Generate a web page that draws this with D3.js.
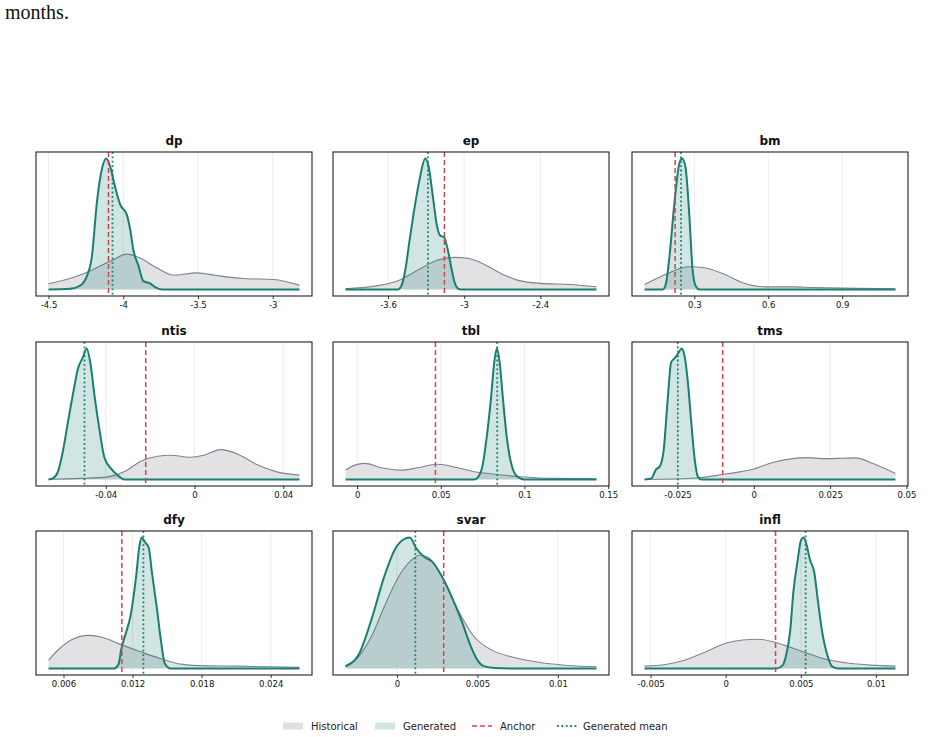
<!DOCTYPE html>
<html>
<head>
<meta charset="utf-8">
<script src="https://cdn.jsdelivr.net/npm/d3@7"></script>
<style>
  body { margin: 0; background: #fff; }
  svg text { font-family: "DejaVu Sans", sans-serif; }
</style>
</head>
<body>
<script>
// Variables, anchors and generated means
const variables = ["dp", "ep", "bm", "ntis", "tbl", "tms", "dfy", "svar", "infl"];
const anchors = [-4.099, -3.156, 0.222, -0.022, 0.0468, -0.0102, 0.01107, 0.0029, 0.00332];
const genMeans = [-4.072, -3.286, 0.246, -0.0496, 0.0837, -0.0249, 0.01294, 0.00114, 0.00532];

// Tick labels per panel
const ticks = [
    ["-4.5", "-4", "-3.5", "-3"],
    ["-3.6", "-3", "-2.4"],
    ["0.3", "0.6", "0.9"],
    ["-0.04", "0", "0.04"],
    ["0", "0.05", "0.1", "0.15"],
    ["-0.025", "0", "0.025", "0.05"],
    ["0.006", "0.012", "0.018", "0.024"],
    ["0", "0.005", "0.01"],
    ["-0.005", "0", "0.005", "0.01"]
];

// Density curves: [x, density] (relative units)
const dpHistorical = [[-4.5, 0.043], [-4.40, 0.07], [-4.266, 0.12], [-4.088, 0.215], [-3.976, 0.27], [-3.887, 0.24], [-3.776, 0.165], [-3.664, 0.109], [-3.508, 0.127], [-3.374, 0.106], [-3.196, 0.084], [-2.995, 0.076], [-2.821, 0.033]];
const dpGenerated = [[-4.5, 0], [-4.355, 0.005], [-4.288, 0.03], [-4.244, 0.10], [-4.210, 0.25], [-4.177, 0.66], [-4.143, 0.92], [-4.114, 1.0], [-4.088, 0.94], [-4.054, 0.78], [-4.021, 0.65], [-3.976, 0.57], [-3.954, 0.46], [-3.932, 0.30], [-3.898, 0.18], [-3.865, 0.063], [-3.820, 0.046], [-3.787, 0.018], [-3.742, 0], [-2.821, 0]];

const epHistorical = [[-3.935, 0.005], [-3.705, 0.025], [-3.522, 0.066], [-3.365, 0.148], [-3.208, 0.224], [-3.077, 0.244], [-2.973, 0.237], [-2.842, 0.19], [-2.711, 0.122], [-2.580, 0.071], [-2.397, 0.046], [-2.162, 0.038], [-1.958, 0.02]];
const epGenerated = [[-3.935, 0], [-3.522, 0], [-3.490, 0.04], [-3.464, 0.148], [-3.430, 0.377], [-3.396, 0.593], [-3.352, 0.835], [-3.307, 0.995], [-3.281, 0.936], [-3.247, 0.707], [-3.216, 0.49], [-3.187, 0.407], [-3.161, 0.40], [-3.129, 0.30], [-3.103, 0.173], [-3.077, 0.058], [-3.051, 0.008], [-3.025, 0], [-1.958, 0]];

const bmHistorical = [[0.098, 0.038], [0.185, 0.117], [0.280, 0.173], [0.334, 0.168], [0.415, 0.122], [0.496, 0.051], [0.590, 0.02], [0.698, 0.02], [0.779, 0.015], [0.9, 0.01], [1.116, 0.005]];
const bmGenerated = [[0.098, 0], [0.172, 0], [0.185, 0.046], [0.199, 0.25], [0.219, 0.656], [0.239, 0.96], [0.250, 1.0], [0.264, 0.936], [0.280, 0.555], [0.293, 0.148], [0.307, 0.02], [0.320, 0], [1.116, 0]];

const ntisHistorical = [[-0.0658, 0.002], [-0.0511, 0.008], [-0.0392, 0.02], [-0.0317, 0.058], [-0.0242, 0.139], [-0.0167, 0.177], [-0.0108, 0.185], [-0.0018, 0.17], [0.0042, 0.185], [0.0117, 0.228], [0.0191, 0.197], [0.0281, 0.114], [0.0371, 0.058], [0.0473, 0.033]];
const ntisGenerated = [[-0.0658, 0], [-0.0639, 0.008], [-0.0616, 0.058], [-0.0594, 0.21], [-0.0568, 0.463], [-0.0541, 0.716], [-0.0526, 0.843], [-0.0504, 0.93], [-0.0486, 1.0], [-0.047, 0.894], [-0.0449, 0.615], [-0.0429, 0.387], [-0.0407, 0.172], [-0.0377, 0.084], [-0.0347, 0.033], [-0.0317, 0], [0.0473, 0]];

const tblHistorical = [[-0.0069, 0.071], [-0.0014, 0.109], [0.0046, 0.122], [0.0145, 0.089], [0.0264, 0.071], [0.0363, 0.089], [0.048, 0.115], [0.0601, 0.089], [0.070, 0.059], [0.0839, 0.038], [0.0978, 0.02], [0.1157, 0.008], [0.143, 0.005]];
const tblGenerated = [[-0.0069, 0], [0.070, 0], [0.0724, 0.02], [0.075, 0.109], [0.0776, 0.338], [0.080, 0.618], [0.082, 0.898], [0.0835, 0.995], [0.0851, 0.898], [0.0871, 0.618], [0.0895, 0.313], [0.0923, 0.109], [0.0958, 0.02], [0.0998, 0], [0.143, 0]];

const tmsHistorical = [[-0.0358, 0], [-0.0254, 0.003], [-0.0178, 0.013], [-0.0102, 0.038], [-0.0047, 0.058], [-0.0003, 0.078], [0.0062, 0.129], [0.0128, 0.159], [0.0171, 0.167], [0.0236, 0.159], [0.0291, 0.162], [0.0335, 0.165], [0.039, 0.122], [0.0464, 0.046]];
const tmsGenerated = [[-0.0358, 0], [-0.0336, 0.008], [-0.032, 0.078], [-0.0309, 0.096], [-0.0296, 0.21], [-0.0282, 0.615], [-0.0271, 0.894], [-0.0257, 0.932], [-0.0246, 0.97], [-0.0237, 1.0], [-0.0227, 0.944], [-0.0216, 0.742], [-0.0205, 0.438], [-0.0194, 0.159], [-0.0183, 0.02], [-0.0172, 0], [0.0464, 0]];

const dfyHistorical = [[0.0047, 0.063], [0.0055, 0.139], [0.0067, 0.22], [0.0082, 0.253], [0.0095, 0.235], [0.011, 0.182], [0.0127, 0.127], [0.0144, 0.076], [0.0162, 0.033], [0.0185, 0.02], [0.0211, 0.018], [0.0239, 0.013], [0.0265, 0.008]];
const dfyGenerated = [[0.0047, 0], [0.0104, 0], [0.0108, 0.038], [0.011, 0.139], [0.0114, 0.266], [0.0118, 0.392], [0.0123, 0.696], [0.0126, 0.937], [0.0128, 1.0], [0.0131, 0.962], [0.0134, 0.924], [0.0137, 0.722], [0.0141, 0.468], [0.0145, 0.19], [0.0148, 0.038], [0.0153, 0], [0.0265, 0]];

const svarHistorical = [[-0.0032, 0.013], [-0.0024, 0.089], [-0.0016, 0.242], [-0.0008, 0.47], [0.0001, 0.7], [0.0009, 0.827], [0.0014, 0.865], [0.0019, 0.852], [0.0028, 0.7], [0.0038, 0.445], [0.0048, 0.242], [0.0059, 0.14], [0.0071, 0.089], [0.009, 0.043], [0.0106, 0.023], [0.0124, 0.013]];
const svarGenerated = [[-0.0032, 0.018], [-0.0024, 0.102], [-0.0016, 0.369], [-0.0008, 0.7], [-0.0001, 0.916], [0.0004, 0.985], [0.0008, 1.0], [0.0012, 0.916], [0.0017, 0.852], [0.0022, 0.814], [0.0028, 0.7], [0.0034, 0.547], [0.004, 0.369], [0.0046, 0.165], [0.005, 0.064], [0.0054, 0.018], [0.0061, 0.003], [0.0071, 0], [0.0124, 0]];

const inflHistorical = [[-0.0054, 0.018], [-0.004, 0.03], [-0.0027, 0.064], [-0.0013, 0.127], [0, 0.191], [0.0011, 0.216], [0.0022, 0.221], [0.0031, 0.204], [0.0042, 0.165], [0.0053, 0.12], [0.0066, 0.071], [0.008, 0.043], [0.0097, 0.025], [0.0113, 0.018]];
const inflGenerated = [[-0.0054, 0], [0.0034, 0], [0.0038, 0.025], [0.004, 0.089], [0.0043, 0.293], [0.0045, 0.573], [0.0048, 0.827], [0.005, 0.967], [0.0052, 0.992], [0.0054, 0.929], [0.0056, 0.827], [0.0059, 0.725], [0.0061, 0.547], [0.0064, 0.293], [0.0068, 0.089], [0.0071, 0.013], [0.0075, 0], [0.0113, 0]];

const historical = [dpHistorical, epHistorical, bmHistorical, ntisHistorical, tblHistorical, tmsHistorical, dfyHistorical, svarHistorical, inflHistorical];
const generated = [dpGenerated, epGenerated, bmGenerated, ntisGenerated, tblGenerated, tmsGenerated, dfyGenerated, svarGenerated, inflGenerated];

const legendLabels = ["Historical", "Generated", "Anchor", "Generated mean"];

// Colours
const histFill = "#dddfe1";
const histLine = "#7d858d";
const genFill = "#1a7f72";
const genLine = "#1a7f72";
const anchorColor = "#d0454c";

// Layout
const W = 947, H = 737;
const colX = [36, 333, 632];
const rowY = [152, 342, 531];
const pw = 276, ph = 144;

const svg = d3.select("body").append("svg")
    .attr("width", W)
    .attr("height", H);

svg.append("text")
    .attr("x", 5)
    .attr("y", 19)
    .style("font-family", '"Liberation Serif", "DejaVu Serif", serif')
    .style("font-size", "20px")
    .attr("fill", "#111")
    .text("months.");

variables.forEach(function (name, i) {
    const col = i % 3, row = Math.floor(i / 3);
    const g = svg.append("g")
        .attr("transform", "translate(" + colX[col] + "," + rowY[row] + ")");

    const hist = historical[i], gen = generated[i];
    const xs = hist.map(d => d[0]).concat(gen.map(d => d[0]));
    const lo = d3.min(xs), hi = d3.max(xs);
    const pad = (hi - lo) * 0.05;
    const x = d3.scaleLinear().domain([lo - pad, hi + pad]).range([0, pw]);
    const ymax = d3.max(hist.concat(gen), d => d[1]);
    const y = d3.scaleLinear().domain([-0.05 * ymax, 1.05 * ymax]).range([ph, 0]);

    const clipId = "clip" + i;
    g.append("clipPath").attr("id", clipId)
        .append("rect").attr("width", pw).attr("height", ph);

    // grid + axis
    const tickVals = ticks[i].map(Number);
    const axis = d3.axisBottom(x)
        .tickValues(tickVals)
        .tickFormat((d, k) => ticks[i][k])
        .tickSize(3)
        .tickPadding(3);
    const ax = g.append("g")
        .attr("transform", "translate(0," + ph + ")")
        .call(axis);
    ax.select(".domain").remove();
    ax.selectAll("line").attr("stroke", "#333");
    ax.selectAll("text").style("font-size", "8.5px").attr("fill", "#111");

    g.append("g").selectAll("line")
        .data(tickVals.filter(v => x(v) > 0 && x(v) < pw))
        .join("line")
        .attr("x1", d => x(d)).attr("x2", d => x(d))
        .attr("y1", 0).attr("y2", ph)
        .attr("stroke", "#e8e8e8")
        .attr("stroke-width", 0.8);

    const plot = g.append("g").attr("clip-path", "url(#" + clipId + ")");

    const area = d3.area()
        .x(d => x(d[0]))
        .y0(y(0))
        .y1(d => y(d[1]))
        .curve(d3.curveMonotoneX);
    const line = d3.line()
        .x(d => x(d[0]))
        .y(d => y(d[1]))
        .curve(d3.curveMonotoneX);

    plot.append("path").datum(hist)
        .attr("d", area)
        .attr("fill", histFill)
        .attr("fill-opacity", 0.9);
    plot.append("path").datum(hist)
        .attr("d", line)
        .attr("fill", "none")
        .attr("stroke", histLine)
        .attr("stroke-width", 1.1);

    plot.append("path").datum(gen)
        .attr("d", area)
        .attr("fill", genFill)
        .attr("fill-opacity", 0.2);
    plot.append("path").datum(gen)
        .attr("d", line)
        .attr("fill", "none")
        .attr("stroke", genLine)
        .attr("stroke-width", 2);

    plot.append("line")
        .attr("x1", x(anchors[i])).attr("x2", x(anchors[i]))
        .attr("y1", 0).attr("y2", ph)
        .attr("stroke", anchorColor)
        .attr("stroke-width", 1.5)
        .attr("stroke-dasharray", "5,3");

    plot.append("line")
        .attr("x1", x(genMeans[i])).attr("x2", x(genMeans[i]))
        .attr("y1", 0).attr("y2", ph)
        .attr("stroke", genLine)
        .attr("stroke-width", 1.8)
        .attr("stroke-dasharray", "1.8,2.6");

    g.append("rect")
        .attr("width", pw).attr("height", ph)
        .attr("fill", "none")
        .attr("stroke", "#222")
        .attr("stroke-width", 1.1);

    g.append("text")
        .attr("x", pw / 2)
        .attr("y", -7)
        .attr("text-anchor", "middle")
        .style("font-size", "12px")
        .style("font-weight", "bold")
        .attr("fill", "#111")
        .text(name);
});

// Legend
const legend = svg.append("g").attr("transform", "translate(0,726)");
const legendX = [283, 375, 472, 557];
legendLabels.forEach(function (label, k) {
    const lg = legend.append("g").attr("transform", "translate(" + legendX[k] + ",0)");
    if (k === 0) {
        lg.append("rect").attr("y", -3.5).attr("width", 20).attr("height", 7).attr("fill", histFill);
    } else if (k === 1) {
        lg.append("rect").attr("y", -3.5).attr("width", 20).attr("height", 7).attr("fill", genFill).attr("fill-opacity", 0.2);
    } else if (k === 2) {
        lg.append("line").attr("x1", 0).attr("x2", 20).attr("stroke", anchorColor)
            .attr("stroke-width", 1.5).attr("stroke-dasharray", "5,3");
    } else {
        lg.append("line").attr("x1", 0).attr("x2", 20).attr("stroke", genLine)
            .attr("stroke-width", 1.8).attr("stroke-dasharray", "1.8,2.6");
    }
    lg.append("text")
        .attr("x", k === 3 ? 26 : 28)
        .attr("y", 3.5)
        .style("font-size", "10px")
        .attr("fill", "#222")
        .text(label);
});
</script>
</body>
</html>
